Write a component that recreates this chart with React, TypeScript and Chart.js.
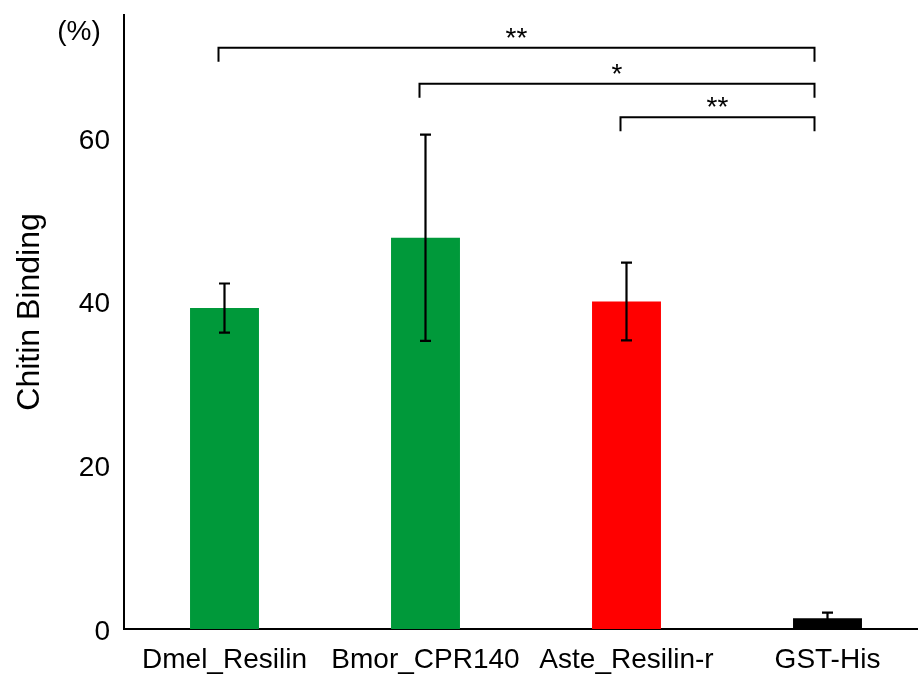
import React, { useEffect, useRef } from 'react';
import { Chart, registerables } from 'chart.js';

Chart.register(...registerables);

const categories = ['Dmel_Resilin', 'Bmor_CPR140', 'Aste_Resilin-r', 'GST-His'];
const bindingMeans = [39.2, 47.8, 40.0, 1.3];
const bindingErrors = [3.0, 12.6, 4.75, 0.7];
const barColors = ['#00993A', '#00993A', '#FF0000', '#000000'];
const yTickValues = [0, 20, 40, 60];
const yMax = 75;
const sigFrom = [0, 1, 2];
const sigTo = [3, 3, 3];
const sigLevels = [71.0, 66.6, 62.5];
const sigLabels = ['**', '*', '**'];
const yTitle = 'Chitin Binding';
const yUnit = '(%)';

const FONT = '"Liberation Sans", Arial, Helvetica, sans-serif';

const errorBarPlugin = {
  id: 'errorBars',
  afterDatasetsDraw(chart: any) {
    const { ctx, scales } = chart;
    const x = scales.x;
    const y = scales.y;
    ctx.save();
    ctx.strokeStyle = '#000';
    ctx.lineWidth = 2.2;
    bindingMeans.forEach((m, i) => {
      const e = bindingErrors[i];
      const cx = x.getPixelForValue(i);
      const yt = y.getPixelForValue(m + e);
      const yb = y.getPixelForValue(m - e);
      ctx.beginPath();
      ctx.moveTo(cx, yt);
      ctx.lineTo(cx, yb);
      ctx.moveTo(cx - 5.5, yt);
      ctx.lineTo(cx + 5.5, yt);
      ctx.moveTo(cx - 5.5, yb);
      ctx.lineTo(cx + 5.5, yb);
      ctx.stroke();
    });
    ctx.restore();
  },
};

const annotationPlugin = {
  id: 'annotations',
  afterDraw(chart: any) {
    const { ctx, scales } = chart;
    const x = scales.x;
    const y = scales.y;
    ctx.save();
    ctx.strokeStyle = '#000';
    ctx.fillStyle = '#000';
    ctx.lineWidth = 2;
    sigLevels.forEach((lvl, k) => {
      const x1 = x.getPixelForValue(sigFrom[k]) - 6;
      const x2 = x.getPixelForValue(sigTo[k]) - 13;
      const ly = y.getPixelForValue(lvl);
      ctx.beginPath();
      ctx.moveTo(x1, ly + 14);
      ctx.lineTo(x1, ly);
      ctx.lineTo(x2, ly);
      ctx.lineTo(x2, ly + 14);
      ctx.stroke();
      ctx.font = `28px ${FONT}`;
      ctx.textAlign = 'center';
      ctx.textBaseline = 'alphabetic';
      ctx.fillText(sigLabels[k], (x1 + x2) / 2, ly - 1);
    });
    // axis title
    ctx.font = `32px ${FONT}`;
    ctx.textAlign = 'center';
    ctx.textBaseline = 'middle';
    ctx.save();
    ctx.translate(30, 312);
    ctx.rotate(-Math.PI / 2);
    ctx.fillText(yTitle, 0, 0);
    ctx.restore();
    ctx.font = `28px ${FONT}`;
    ctx.fillText(yUnit, 79, 32);
    ctx.restore();
  },
};

export default function App() {
  const ref = useRef<HTMLCanvasElement | null>(null);
  useEffect(() => {
    if (!ref.current) return;
    const chart = new Chart(ref.current, {
      type: 'bar',
      data: {
        labels: categories,
        datasets: [
          {
            data: bindingMeans,
            backgroundColor: barColors,
            borderWidth: 0,
            categoryPercentage: 1,
            barPercentage: 0.343,
          },
        ],
      },
      options: {
        responsive: false,
        animation: false,
        layout: { padding: { top: 15, right: 2, left: 0, bottom: 0 } },
        plugins: { legend: { display: false }, tooltip: { enabled: false } },
        scales: {
          x: {
            grid: { display: false, drawTicks: false },
            border: { display: true, color: '#000', width: 2 },
            ticks: { color: '#000', font: { size: 28, family: FONT }, padding: 14, maxRotation: 0, autoSkip: false },
            afterFit(scale: any) {
              scale.height = 45;
              scale.paddingLeft = 0;
              scale.paddingRight = 0;
            },
          },
          y: {
            min: 0,
            max: yMax,
            grid: { display: false, drawTicks: false },
            border: { display: true, color: '#000', width: 2 },
            ticks: { color: '#000', font: { size: 28, family: FONT }, padding: 14, labelOffset: 3 },
            afterBuildTicks(scale: any) {
              scale.ticks = yTickValues.map((v) => ({ value: v }));
            },
            afterFit(scale: any) {
              scale.width = 124;
              scale.paddingTop = 0;
              scale.paddingBottom = 0;
            },
          },
        },
      },
      plugins: [errorBarPlugin, annotationPlugin],
    });
    return () => chart.destroy();
  }, []);
  return (
    <div style={{ position: 'absolute', left: 0, top: 0, width: 918, height: 674, overflow: 'hidden', background: '#fff' }}>
      <canvas ref={ref} width={930} height={674} style={{ display: 'block' }} />
    </div>
  );
}
